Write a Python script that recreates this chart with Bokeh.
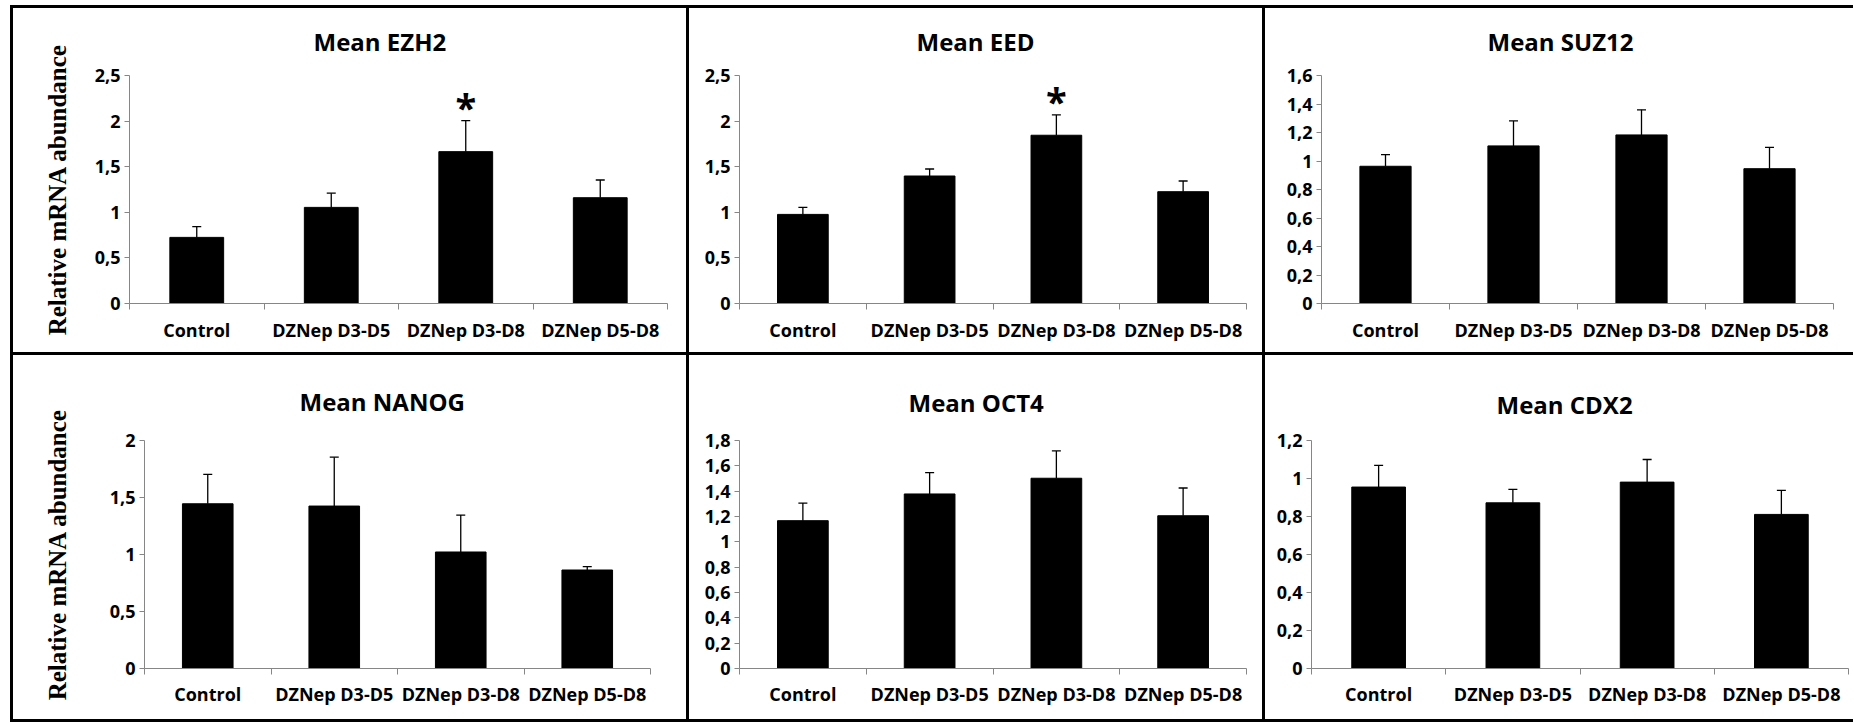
from bokeh.plotting import figure
from bokeh.models import Range1d, FixedTicker, Whisker, TeeHead, ColumnDataSource, Spacer
from bokeh.layouts import column, row
from bokeh.embed import file_html
from bokeh.resources import INLINE
from bokeh.core.properties import value

# ---------------- data ----------------
categories = ["Control", "DZNep D3-D5", "DZNep D3-D8", "DZNep D5-D8"]

ezh2_mean = [0.725, 1.054, 1.665, 1.160]
ezh2_err = [0.117, 0.156, 0.341, 0.194]
ezh2_sig = [False, False, True, False]

eed_mean = [0.977, 1.398, 1.845, 1.226]
eed_err = [0.077, 0.077, 0.223, 0.117]
eed_sig = [False, False, True, False]

suz12_mean = [0.963, 1.106, 1.183, 0.946]
suz12_err = [0.082, 0.175, 0.176, 0.150]

nanog_mean = [1.445, 1.425, 1.022, 0.864]
nanog_err = [0.257, 0.429, 0.324, 0.029]

oct4_mean = [1.167, 1.378, 1.502, 1.206]
oct4_err = [0.139, 0.169, 0.216, 0.219]

cdx2_mean = [0.955, 0.872, 0.981, 0.811]
cdx2_err = [0.114, 0.071, 0.119, 0.126]

ticks_25 = [0.0, 0.5, 1.0, 1.5, 2.0, 2.5]
labels_25 = ["0", "0,5", "1", "1,5", "2", "2,5"]
ticks_16 = [0.0, 0.2, 0.4, 0.6, 0.8, 1.0, 1.2, 1.4, 1.6]
labels_16 = ["0", "0,2", "0,4", "0,6", "0,8", "1", "1,2", "1,4", "1,6"]
ticks_20 = [0.0, 0.5, 1.0, 1.5, 2.0]
labels_20 = ["0", "0,5", "1", "1,5", "2"]
ticks_18 = [0.0, 0.2, 0.4, 0.6, 0.8, 1.0, 1.2, 1.4, 1.6, 1.8]
labels_18 = ["0", "0,2", "0,4", "0,6", "0,8", "1", "1,2", "1,4", "1,6", "1,8"]
ticks_12 = [0.0, 0.2, 0.4, 0.6, 0.8, 1.0, 1.2]
labels_12 = ["0", "0,2", "0,4", "0,6", "0,8", "1", "1,2"]

y_label = "Relative mRNA abundance"

# ---------------- style ----------------
AXIS_GRAY = "#868686"
SANS = "Open Sans"
SERIF = "Liberation Serif"
STAR_GAP = 0.15


def make_panel(title, means, errs, sig, ticks, tick_labels, w, h, ml, mr, mt, mb,
               title_offset, title_standoff, xlab_standoff, ylabel=None, ylab_standoff=24):
    n = len(categories)
    centers = [i + 0.5 for i in range(n)]
    bounds = [float(i) for i in range(n + 1)]
    p = figure(width=w, height=h, x_range=Range1d(0, n), y_range=Range1d(ticks[0], ticks[-1]),
               output_backend="svg", toolbar_location=None,
               min_border_left=ml, min_border_right=mr, min_border_top=mt, min_border_bottom=mb,
               background_fill_color="white", border_fill_color="white",
               outline_line_color=None)
    p.xgrid.visible = False
    p.ygrid.visible = False

    p.title.text = title
    p.title.align = "left"
    p.title.vertical_align = "top"
    p.title.text_font = SANS
    p.title.text_font_size = "24px"
    p.title.text_font_style = "bold"
    p.title.text_color = "black"
    p.title.offset = title_offset
    p.title.standoff = title_standoff

    tops = [m + e for m, e in zip(means, errs)]
    src = ColumnDataSource(dict(x=centers, mean=means, top=tops))
    p.vbar(x="x", top="mean", bottom=0, width=0.4, source=src,
           fill_color="black", line_color="black")
    wh = Whisker(base="x", lower="mean", upper="top", source=src, dimension="height",
                 line_color="black", line_width=1.3,
                 upper_head=TeeHead(size=9, line_color="black", line_width=1.3),
                 lower_head=None)
    p.add_layout(wh)

    if sig is not None:
        sx = [c for c, s in zip(centers, sig) if s]
        sy = [t + STAR_GAP for t, s in zip(tops, sig) if s]
        p.text(x=sx, y=sy, text=["*"] * len(sx), text_font=value(SANS),
               text_font_style="bold", text_font_size="38px", text_color="black",
               text_align="center", text_baseline="middle")

    ya = p.yaxis[0]
    ya.ticker = FixedTicker(ticks=ticks)
    ya.major_label_overrides = dict(zip(ticks, tick_labels))
    ya.axis_line_color = AXIS_GRAY
    ya.major_tick_line_color = AXIS_GRAY
    ya.major_tick_out = 5
    ya.major_tick_in = 0
    ya.minor_tick_line_color = None
    ya.major_label_standoff = 4
    ya.major_label_text_font = SANS
    ya.major_label_text_font_style = "bold"
    ya.major_label_text_font_size = "18px"
    ya.major_label_text_color = "black"
    if ylabel:
        ya.axis_label = ylabel
        ya.axis_label_text_font = SERIF
        ya.axis_label_text_font_style = "bold"
        ya.axis_label_text_font_size = "25px"
        ya.axis_label_text_color = "black"
        ya.axis_label_standoff = ylab_standoff

    xa = p.xaxis[0]
    xa.ticker = FixedTicker(ticks=centers, minor_ticks=bounds)
    xa.major_label_overrides = dict(zip(centers, categories))
    xa.axis_line_color = AXIS_GRAY
    xa.major_tick_line_color = None
    xa.major_tick_out = 0
    xa.major_tick_in = 0
    xa.minor_tick_line_color = AXIS_GRAY
    xa.minor_tick_out = 6
    xa.minor_tick_in = 0
    xa.major_label_standoff = xlab_standoff
    xa.major_label_text_font = SANS
    xa.major_label_text_font_style = "bold"
    xa.major_label_text_font_size = "18px"
    xa.major_label_text_color = "black"
    return p


B = 3
LEFT_GAP, TOP_GAP = 10, 5
W1, W2, W3 = 673, 573, 588
H1, H2 = 344, 364

p1 = make_panel("Mean EZH2", ezh2_mean, ezh2_err, ezh2_sig, ticks_25, labels_25,
                W1, H1, 116, 19, 67, 49, 184, 32, 8, y_label, 21)
p2 = make_panel("Mean EED", eed_mean, eed_err, eed_sig, ticks_25, labels_25,
                W2, H1, 50, 16, 67, 49, 177, 32, 8)
p3 = make_panel("Mean SUZ12", suz12_mean, suz12_err, None, ticks_16, labels_16,
                W3, H1, 56, 20, 67, 49, 166, 32, 8)
p4 = make_panel("Mean NANOG", nanog_mean, nanog_err, None, ticks_20, labels_20,
                W1, H2, 131, 36, 85, 51, 155, 41, 7, y_label, 36)
p5 = make_panel("Mean OCT4", oct4_mean, oct4_err, None, ticks_18, labels_18,
                W2, H2, 50, 16, 85, 51, 169, 39, 7)
p6 = make_panel("Mean CDX2", cdx2_mean, cdx2_err, None, ticks_12, labels_12,
                W3, H2, 46, 5, 85, 51, 185, 35, 7)


def vline(h):
    return Spacer(width=B, height=h, styles={"background-color": "black"})


def hline(w):
    return row(Spacer(width=LEFT_GAP, height=B),
               Spacer(width=w, height=B, styles={"background-color": "black"}))


total_w = B * 3 + W1 + W2 + W3
layout = column(
    Spacer(width=10, height=TOP_GAP),
    hline(total_w),
    row(Spacer(width=LEFT_GAP, height=H1), vline(H1), p1, vline(H1), p2, vline(H1), p3),
    hline(total_w),
    row(Spacer(width=LEFT_GAP, height=H2), vline(H2), p4, vline(H2), p5, vline(H2), p6),
    hline(total_w),
)

open("out.html", "w").write(file_html(layout, INLINE))
